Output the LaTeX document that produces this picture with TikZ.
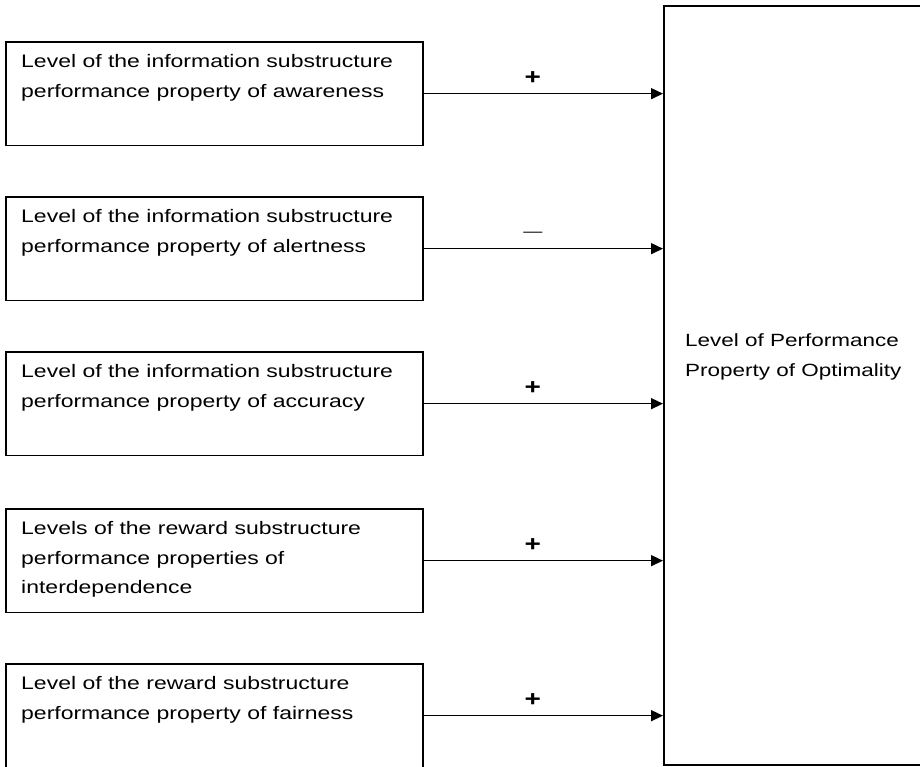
\documentclass[tikz,border=0pt]{standalone}
\usepackage{fontspec}
\setmainfont[FakeStretch=1.27]{Liberation Sans}
\usetikzlibrary{arrows.meta}

\begin{document}
\begin{tikzpicture}[x=1pt,y=-1pt,
  srcbox/.style={draw, line width=1.8pt, minimum width=417pt, minimum height=103.5pt,
    anchor=north west, inner sep=0pt},
  bigbox/.style={draw, line width=1.8pt, minimum width=300pt, minimum height=759pt,
    anchor=north west, inner sep=0pt},
  boxtext/.style={anchor=north west, inner sep=0pt, align=left,
    font=\fontsize{18.1pt}{29.5pt}\selectfont},
  optext/.style={anchor=north west, inner sep=0pt, align=left,
    font=\fontsize{17.7pt}{29.5pt}\selectfont},
  link/.style={line width=1.5pt, -{Triangle[length=12pt,width=11pt]}},
  plussign/.style={pos=0.456, yshift=16pt, inner sep=0pt,
    font=\fontsize{22pt}{22pt}\selectfont\bfseries},
  minussign/.style={pos=0.456, yshift=14.5pt, inner sep=0pt,
    font=\fontsize{15pt}{15pt}\selectfont},
]
\useasboundingbox (0,0) rectangle (920,766);

% target box on the right
\node[bigbox] (opt) at (663,5) {};
\node[optext] (optt) at (685,333.8) {Level of Performance\\Property of Optimality};

% source boxes
\node[srcbox] (b1) at (5,41) {};
\node[srcbox] (b2) at (5,196) {};
\node[srcbox] (b3) at (5,351) {};
\node[srcbox] (b4) at (5,508) {};
\node[srcbox] (b5) at (5,663) {};

\node[boxtext] (t1) at ([xshift=16pt,yshift=-13.3pt]b1.north west)
  {Level of the information substructure\\performance property of awareness};
\node[boxtext] (t2) at ([xshift=16pt,yshift=-13.3pt]b2.north west)
  {Level of the information substructure\\performance property of alertness};
\node[boxtext] (t3) at ([xshift=16pt,yshift=-13.3pt]b3.north west)
  {Level of the information substructure\\performance property of accuracy};
\node[boxtext] (t4) at ([xshift=16pt,yshift=-13.3pt]b4.north west)
  {Levels of the reward substructure\\performance properties of\\interdependence};
\node[boxtext] (t5) at ([xshift=16pt,yshift=-13.3pt]b5.north west)
  {Level of the reward substructure\\performance property of fairness};

% influences
\draw[link] (b1.east) -- (b1.east -| opt.west) node[plussign] (s1) {+};
\draw[link] (b2.east) -- (b2.east -| opt.west) node[minussign] (s2) {—};
\draw[link] (b3.east) -- (b3.east -| opt.west) node[plussign] (s3) {+};
\draw[link] (b4.east) -- (b4.east -| opt.west) node[plussign] (s4) {+};
\draw[link] (b5.east) -- (b5.east -| opt.west) node[plussign] (s5) {+};
\end{tikzpicture}
\end{document}
